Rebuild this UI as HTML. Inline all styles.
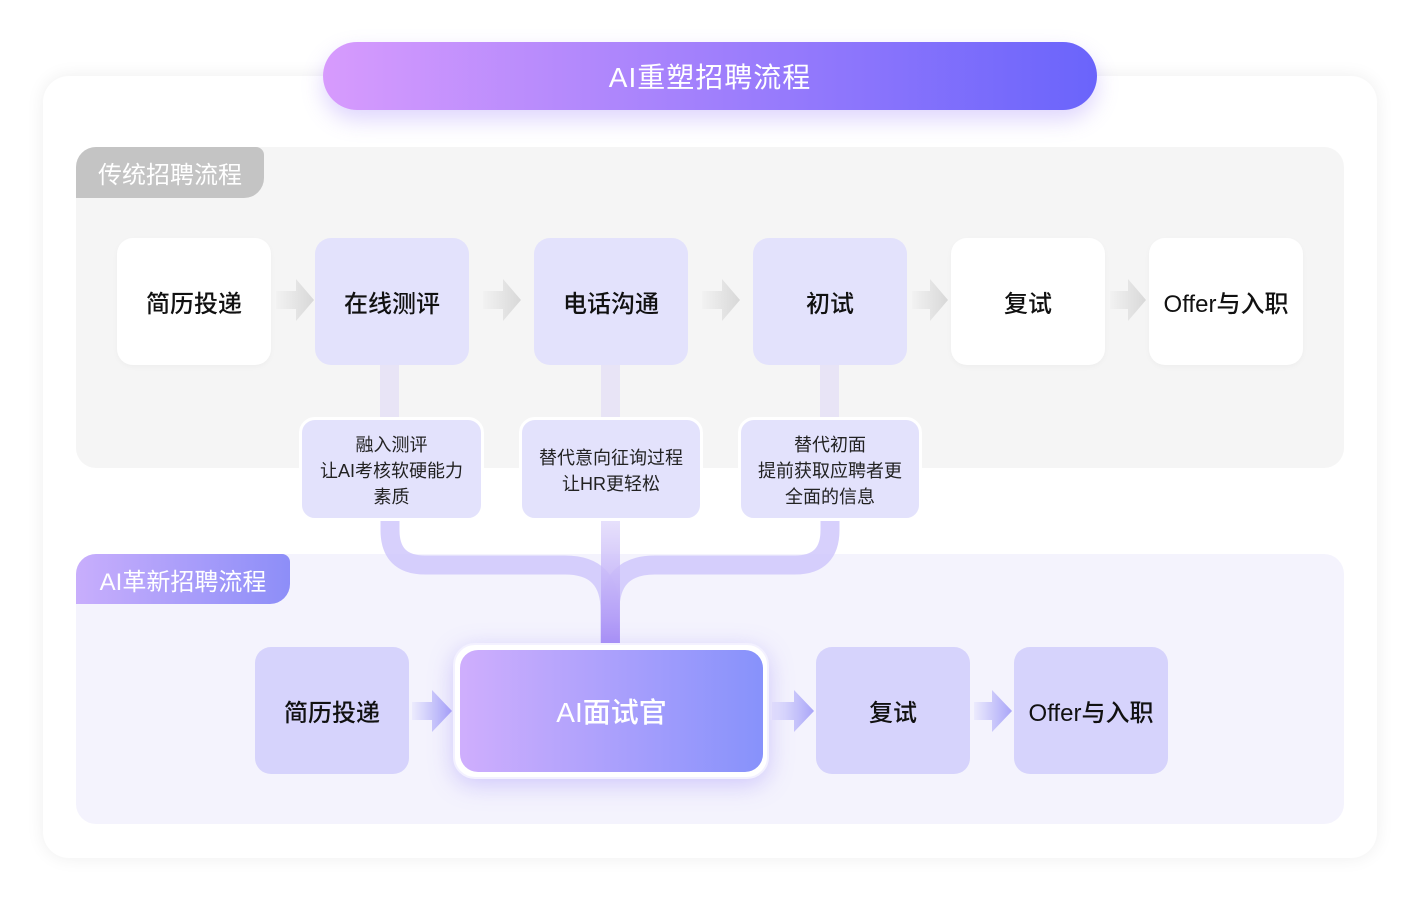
<!DOCTYPE html>
<html><head><meta charset="utf-8">
<style>
*{margin:0;padding:0;box-sizing:border-box}
body{width:1420px;height:900px;background:#fff;position:relative;overflow:hidden;font-family:"Liberation Sans","Noto Sans CJK SC",sans-serif}
.abs{position:absolute}
.card{left:43px;top:76px;width:1334px;height:782px;background:#fff;border-radius:26px;box-shadow:0 0 18px rgba(0,0,0,0.07)}
.title{left:323px;top:42px;width:774px;height:68px;border-radius:34px;background:linear-gradient(90deg,#d79bfd,#6a64fb);color:#fff;font-size:28px;display:flex;align-items:center;justify-content:center;box-shadow:0 10px 22px rgba(150,120,250,0.3);letter-spacing:1px}
.sec1{left:76px;top:147px;width:1268px;height:321px;background:#f5f5f5;border-radius:20px}
.sec2{left:76px;top:554px;width:1268px;height:270px;background:#f4f3fd;border-radius:20px}
.tab{display:flex;align-items:center;justify-content:center;color:#fff;font-size:24px;border-radius:20px 8px 20px 0}
.box{width:154px;height:127px;border-radius:16px;display:flex;align-items:center;justify-content:center;font-size:24px;color:#111;font-weight:500}
.w{background:#fff;box-shadow:0 2px 6px rgba(0,0,0,0.03)}
.l{background:#e3e2fc}
.b{background:#d6d3fc}
.note{top:417px;height:104px;border:3px solid #fff;border-radius:16px;background:#e3e2fc;font-size:18px;color:#222;text-align:center;line-height:26px;display:flex;align-items:center;justify-content:center;padding-top:4px}
</style></head><body>
<div class="abs card"></div>
<div class="abs title">AI重塑招聘流程</div>
<div class="abs sec1"></div>
<div class="abs tab" style="left:76px;top:147px;width:188px;height:51px;background:#c4c4c4">传统招聘流程</div>
<div class="abs sec2"></div>
<div class="abs tab" style="left:76px;top:554px;width:214px;height:50px;background:linear-gradient(90deg,#c8aefc,#8d8ef8)">AI革新招聘流程</div>

<svg class="abs" style="left:0;top:0" width="1420" height="900">
<defs>
<linearGradient id="ga" x1="0" x2="1"><stop offset="0" stop-color="#f2f2f2"/><stop offset="1" stop-color="#d8d8d8"/></linearGradient>
<linearGradient id="gb" x1="0" x2="1"><stop offset="0" stop-color="#ecebfd"/><stop offset="1" stop-color="#a9a5f8"/></linearGradient>
<linearGradient id="gv" x1="0" y1="0" x2="0" y2="1"><stop offset="0" stop-color="#e3dcfb"/><stop offset="1" stop-color="#a388f5"/></linearGradient>
</defs>
<g fill="url(#ga)">
<path d="M276 291h20v-12l18 21-18 21v-12h-20z"/>
<path d="M483 291h20v-12l18 21-18 21v-12h-20z"/>
<path d="M702 291h20v-12l18 21-18 21v-12h-20z"/>
<path d="M912 291h18v-12l18 21-18 21v-12h-18z"/>
<path d="M1110 291h18v-12l18 21-18 21v-12h-18z"/>
</g>
<g fill="#e8e4f6">
<rect x="380" y="365" width="19" height="52"/>
<rect x="601" y="365" width="19" height="52"/>
<rect x="820" y="365" width="19" height="52"/>
</g>
<g fill="none" stroke="#cdc4fb" stroke-opacity="0.8" stroke-width="19">
<path d="M390 520 v10 q0 35 35 35 h140 q45 0 45 45 v35"/>
<path d="M830 520 v10 q0 35 -35 35 h-140 q-45 0 -45 45 v35"/>
</g>
<rect x="601" y="520" width="19" height="124" fill="url(#gv)" opacity="0.85"/>
<g fill="url(#gb)">
<path d="M412 702h20v-12l20 21-20 21v-12h-20z"/>
<path d="M772 702h22v-12l20 21-20 21v-12h-22z"/>
<path d="M974 702h18v-12l20 21-20 21v-12h-18z"/>
</g>
</svg>

<div class="abs box w" style="left:117px;top:238px">简历投递</div>
<div class="abs box l" style="left:315px;top:238px">在线测评</div>
<div class="abs box l" style="left:534px;top:238px">电话沟通</div>
<div class="abs box l" style="left:753px;top:238px">初试</div>
<div class="abs box w" style="left:951px;top:238px">复试</div>
<div class="abs box w" style="left:1149px;top:238px">Offer与入职</div>

<div class="abs note" style="left:299px;width:185px">融入测评<br>让AI考核软硬能力<br>素质</div>
<div class="abs note" style="left:519px;width:184px">替代意向征询过程<br>让HR更轻松</div>
<div class="abs note" style="left:738px;width:184px">替代初面<br>提前获取应聘者更<br>全面的信息</div>

<div class="abs box b" style="left:255px;top:647px">简历投递</div>
<div class="abs" style="left:453px;top:643px;width:316px;height:136px;border-radius:22px;background:#fff;border:2px solid #f3f1ff;box-shadow:0 6px 24px rgba(140,120,250,0.35)"></div>
<div class="abs" style="left:460px;top:650px;width:303px;height:122px;border-radius:18px;background:linear-gradient(90deg,#cfaefd,#8792fb);color:#fff;font-size:28px;display:flex;align-items:center;justify-content:center;font-weight:500">AI面试官</div>
<div class="abs box b" style="left:816px;top:647px">复试</div>
<div class="abs box b" style="left:1014px;top:647px">Offer与入职</div>
</body></html>
